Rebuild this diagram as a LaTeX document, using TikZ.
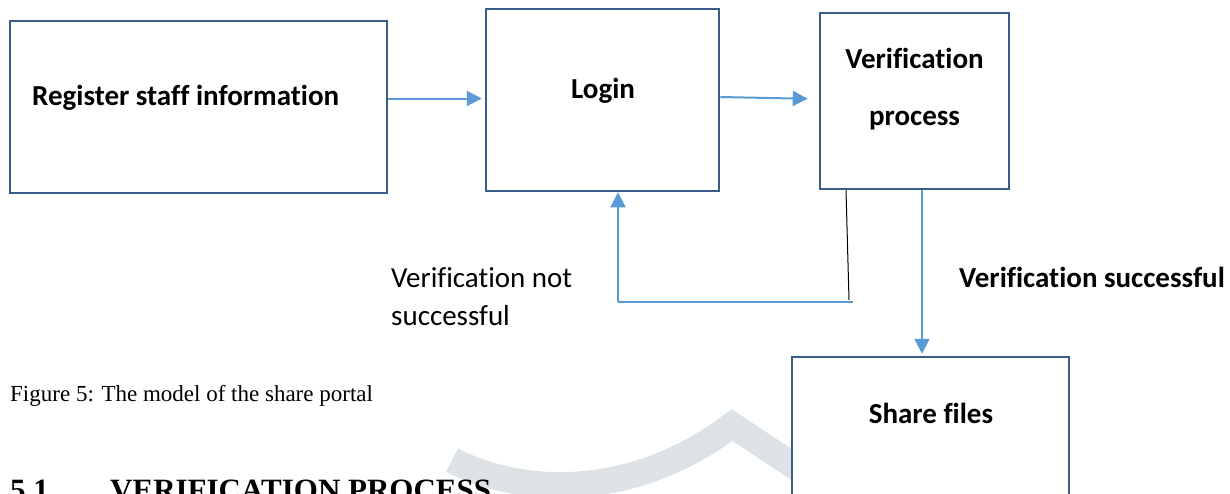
\documentclass[tikz,border=0pt]{standalone}
\usepackage{fontspec}
\setmainfont{Carlito}[Ligatures=NoCommon]
\newfontfamily\timesfont{Liberation Serif}
\usetikzlibrary{arrows.meta}
\definecolor{boxblue}{HTML}{385D8A}
\definecolor{arrowblue}{HTML}{5B9BD5}
\definecolor{wmgray}{HTML}{DCE2E6}
\tikzset{
  box/.style={draw=boxblue, line width=2.5pt, fill=white, rectangle, inner sep=0pt},
  lbl/.style={inner sep=0pt, font=\bfseries\fontsize{29}{34}\selectfont},
  plainlbl/.style={inner sep=0pt, font=\fontsize{29}{34}\selectfont},
  arr/.style={draw=arrowblue, line width=2pt, -{Triangle[length=15pt,width=15pt]}},
  fbline/.style={draw=arrowblue, line width=1.5pt},
  wm/.style={draw=wmgray, line width=26pt, line join=miter},
  captxt/.style={inner sep=0pt, font=\timesfont\fontsize{23}{28}\selectfont},
  headtxt/.style={inner sep=0pt, font=\timesfont\bfseries\fontsize{31}{36}\selectfont}
}
\begin{document}
\begin{tikzpicture}[x=1pt,y=-1pt]
\useasboundingbox (0,0) rectangle (1230,493);
\clip (0,0) rectangle (1230,493);
\fill[white] (0,0) rectangle (1230,493);
% watermark
\draw[wm] (452,460) .. controls (530,500) and (640,495) .. (732,425) -- (815,480);
% boxes
\node[box, minimum width=377pt, minimum height=172pt] (reg) at (198.5,107) {};
\node[box, minimum width=233pt, minimum height=182pt] (login) at (602.5,100) {};
\node[box, minimum width=189pt, minimum height=176pt] (verif) at (914.5,101) {};
\node[box, minimum width=277pt, minimum height=200pt] (share) at (930.5,457) {};
% box texts
\node[lbl, anchor=base west] (tReg) at (32,105) {Register staff information};
\node[lbl, anchor=base] (tLogin) at (603,98) {Login};
\node[lbl, anchor=base] (tVer1) at (914.5,68) {Verification};
\node[lbl, anchor=base] (tVer2) at (914.5,125) {process};
\node[lbl, anchor=base] (tShare) at (931,423) {Share files};
% connectors
\draw[arr, shorten >=3pt] ([yshift=8.5pt]reg.east) -- ([yshift=1.5pt]login.west);
\draw[arr, shorten >=11pt] ([yshift=3pt]login.east) -- ([yshift=2pt]verif.west);
\draw[arr, shorten >=2pt] ([xshift=7.5pt]verif.south) -- ([xshift=-8.5pt]share.north);
\coordinate (f1) at (849,300);
\coordinate (f2) at (853,302);
\coordinate (f3) at (618,302);
\draw[black, line width=1pt] ([xshift=-68.5pt]verif.south) -- (f1);
\draw[fbline] (f2) -- (f3);
\draw[arr] (f3) -- (f3 |- login.south);
% edge labels
\node[lbl, anchor=base west] (tOk) at (959,287) {Verification successful};
\node[plainlbl, anchor=base west] (tNo1) at (391,287) {Verification not};
\node[plainlbl, anchor=base west] (tNo2) at (391,325) {successful};
% caption and heading
\node[captxt, anchor=base west] (cap) at (10,401) {Figure 5: The model of the share portal};
\node[headtxt, anchor=base west] (h1) at (10,500) {5.1};
\node[headtxt, anchor=base west] (h2) at (110,500) {VERIFICATION PROCESS};
\end{tikzpicture}
\end{document}
